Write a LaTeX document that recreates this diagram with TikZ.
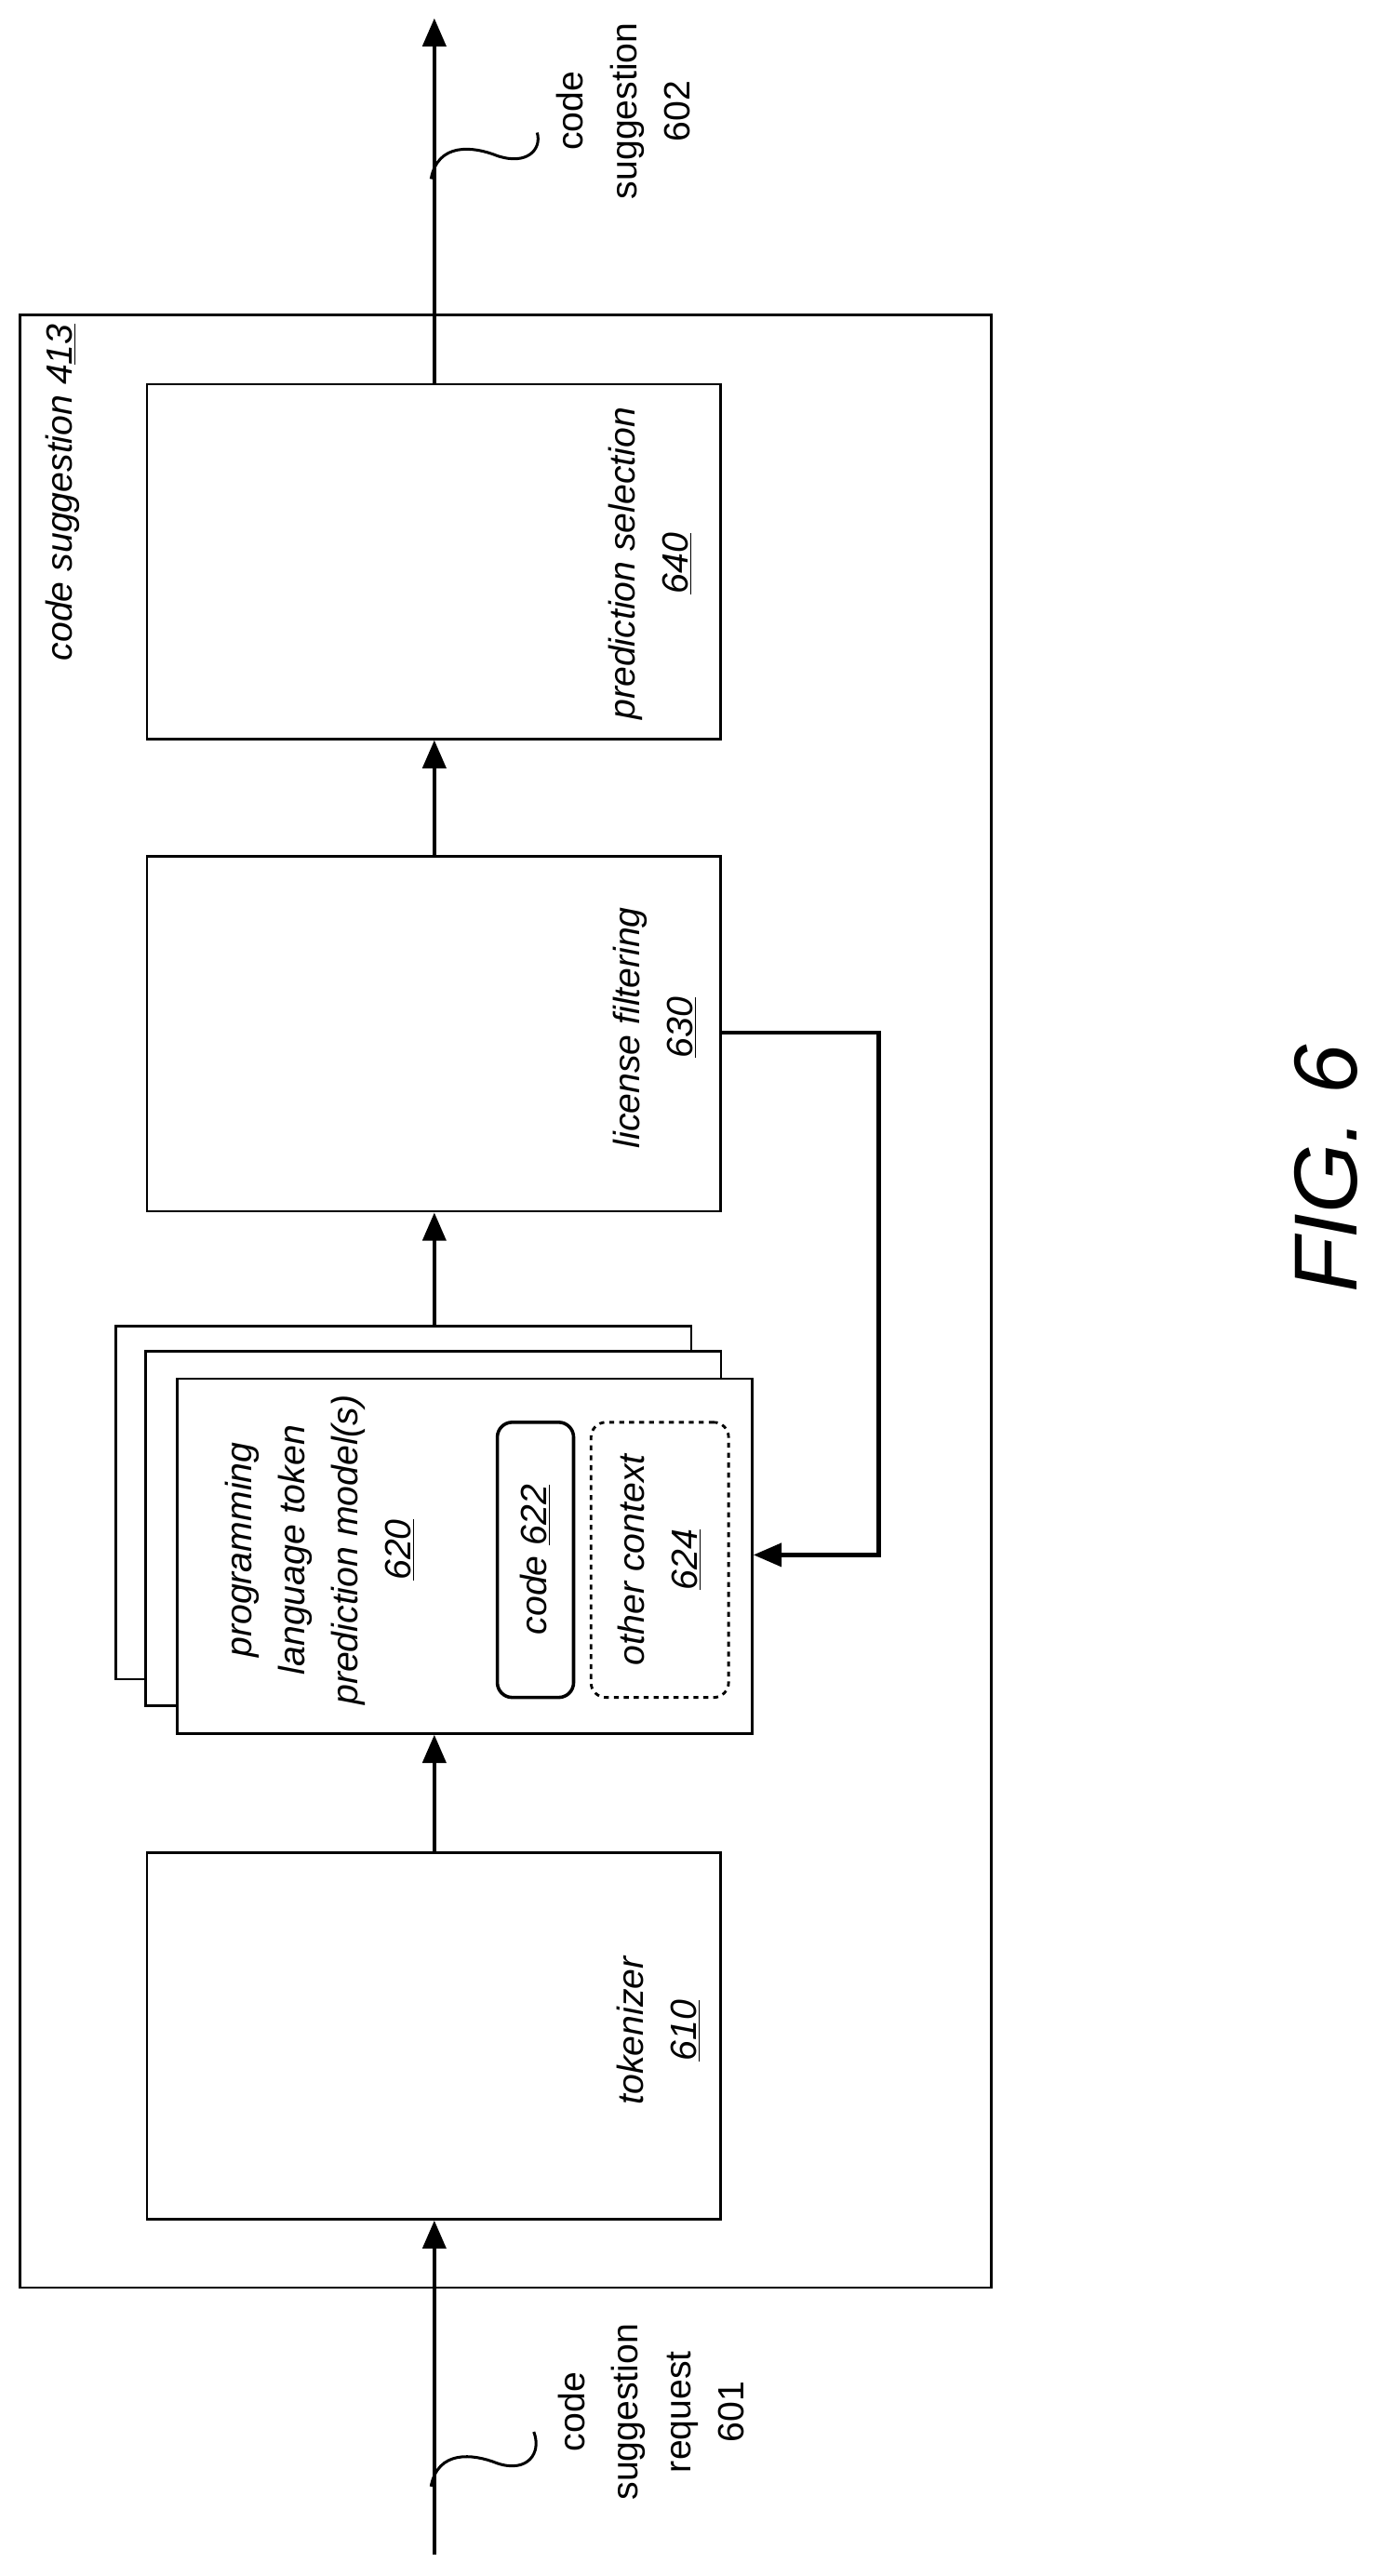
\documentclass[tikz,border=0pt]{standalone}
\usepackage{fontspec}
\setmainfont{Liberation Sans}
\usetikzlibrary{arrows.meta}
\begin{document}
\begin{tikzpicture}[x=1pt,y=-1pt,
  box/.style={draw,line width=1.5pt,fill=white},
  lbl/.style={rotate=90,align=center,font=\fontsize{22}{32}\selectfont\itshape},
  plbl/.style={rotate=90,align=center,font=\fontsize{22}{32}\selectfont},
  arr/.style={line width=2.4pt,-{Triangle[length=17pt,width=14pt]}},
  ln/.style={line width=2.4pt}]
\useasboundingbox (0,0) rectangle (830,1554);
\draw[line width=1.5pt] (12,190) rectangle (598,1380);
\node[lbl,anchor=north east] (t413) at (24,192) {code suggestion 4\underline{13}};
\draw[box] (70,800) rectangle (417,1013);
\draw[box] (88,815) rectangle (435,1029);
\node[box,minimum width=347pt,minimum height=214pt,anchor=north west,inner sep=0] (m) at (106,831) {};
\node[box,minimum width=346pt,minimum height=214pt,anchor=north west,inner sep=0] (ps) at (88,231) {};
\node[box,minimum width=346pt,minimum height=214pt,anchor=north west,inner sep=0] (lf) at (88,516) {};
\node[box,minimum width=346pt,minimum height=221pt,anchor=north west,inner sep=0] (tk) at (88,1117) {};
\node[lbl] at (392,340) {prediction selection\\\underline{640}};
\node[lbl] at (395,620) {license filtering\\\underline{630}};
\node[lbl] at (397,1225) {tokenizer\\\underline{610}};
\node[lbl] at (193,935) {programming\\language token\\prediction model(s)\\\underline{620}};
\node[draw,line width=2pt,rounded corners=9pt,minimum width=46pt,minimum height=166pt] (c622) at (323,941) {};
\node[lbl] at (323,941) {code \underline{622}};
\node[draw,line width=1.6pt,dashed,rounded corners=9pt,minimum width=83pt,minimum height=166pt] (c624) at (398,941) {};
\node[lbl] at (398,941) {other context\\\underline{624}};
\coordinate (in) at (262,1541);
\coordinate (out) at (262,11);
\draw[arr] (in) -- (tk.south -| in);
\draw[arr] (tk.north -| in) -- (m.south -| in);
\draw[arr] (262,800) -- (lf.south -| in);
\draw[arr] (lf.north -| in) -- (ps.south -| in);
\draw[arr] (ps.north -| in) -- (out);
\coordinate (f1) at (530,623);
\coordinate (f2) at (530,938);
\draw[arr] (434,623) -- (f1) -- (f2) -- (m.east |- f2);
\draw[line width=1.7pt] (260,1500) .. controls (264,1478) and (285,1480) .. (300,1486) .. controls (318,1492) and (327,1480) .. (322,1467);
\draw[line width=1.7pt] (260,108) .. controls (264,86) and (285,88) .. (300,94) .. controls (318,100) and (327,90) .. (324,80);
\node[plbl] at (393,1455) {code\\suggestion\\request\\601};
\node[plbl] at (376,67) {code\\suggestion\\602};
\node[rotate=90,font=\fontsize{54}{60}\selectfont\itshape] at (800,705) {FIG. 6};
\end{tikzpicture}
\end{document}
